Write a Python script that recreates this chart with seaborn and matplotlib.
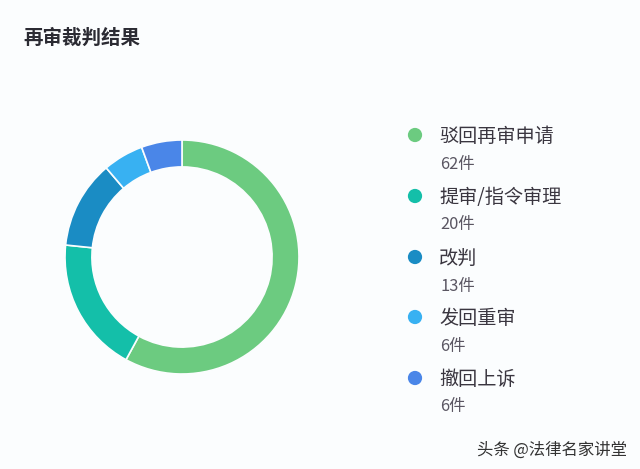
import matplotlib
matplotlib.use("Agg")
import matplotlib.pyplot as plt
import seaborn as sns

title = "再审裁判结果"
categories = ["驳回再审申请", "提审/指令审理", "改判", "发回重审", "撤回上诉"]
counts = [62, 20, 13, 6, 6]
colors = ["#6CCB80", "#14BFA9", "#1A8CC4", "#38B1F2", "#4A86E8"]
watermark = "头条 @法律名家讲堂"

bg = "#FBFDFE"

sns.set_theme(style="white")
plt.rcParams["font.family"] = ["Noto Sans CJK SC", "DejaVu Sans"]

W, H = 640, 469
fig = plt.figure(figsize=(W / 100, H / 100), dpi=100, facecolor=bg)

# overlay in pixel coords for title and legend
ov = fig.add_axes([0, 0, 1, 1])
ov.set_xlim(0, W)
ov.set_ylim(H, 0)
ov.axis("off")

# ring
ax = fig.add_axes([65 / W, (H - 374) / H, 234 / W, 234 / H])
ax.pie(counts, colors=sns.color_palette(colors), startangle=90, counterclock=False,
       radius=1, wedgeprops=dict(width=0.23, edgecolor=bg, linewidth=1.2))
ax.set_xlim(-1, 1)
ax.set_ylim(-1, 1)
ax.patch.set_alpha(0)

ov.text(23, 38, title, fontsize=14, fontweight="bold", color="#2B2B33", va="center")

legend_y = [135, 196, 257, 317, 378]
sns.scatterplot(x=[415] * len(legend_y), y=legend_y, hue=categories, palette=colors,
                s=105, linewidth=0, legend=False, ax=ov)
for name, n, y in zip(categories, counts, legend_y):
    ov.text(439, y + 1.5, name, fontsize=13.8, color="#3A3640", va="center")
    ov.text(440, y + 29, f"{n}件", fontsize=11.8, color="#5A5662", va="center")

ov.text(627, 450, watermark, fontsize=11.8, color="#333333", va="center", ha="right")

fig.savefig("out.png", dpi=100, facecolor=bg)
